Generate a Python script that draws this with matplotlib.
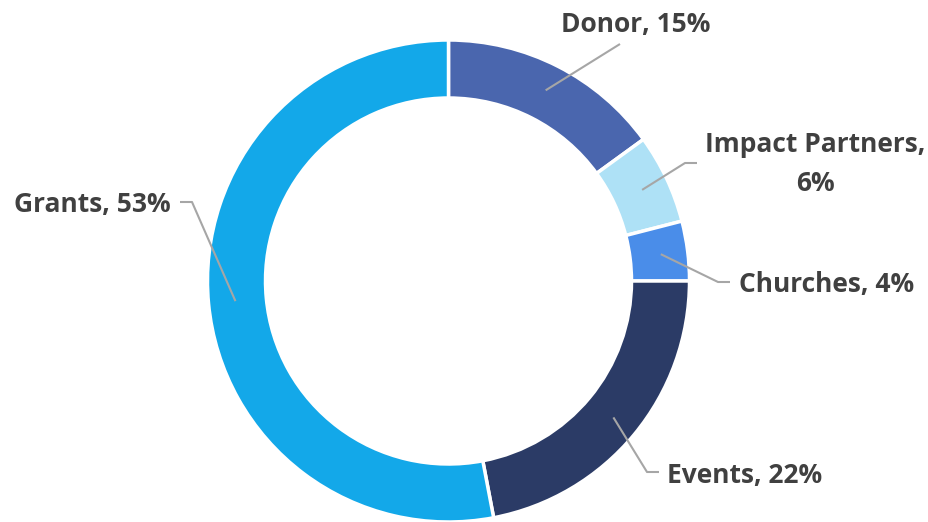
import numpy as np
import matplotlib
matplotlib.use("Agg")
import matplotlib.pyplot as plt

categories = ["Donor", "Impact Partners", "Churches", "Events", "Grants"]
values = [15, 6, 4, 22, 53]
colors = ["#4A66AE", "#AEE1F6", "#4A8DE9", "#2B3B66", "#13A8E9"]
label_texts = ["Donor, 15%", "Impact Partners,\n6%", "Churches, 4%", "Events, 22%", "Grants, 53%"]

W, H = 929, 522
fig = plt.figure(figsize=(W / 100, H / 100), dpi=100)
ax = fig.add_axes([0, 0, 1, 1])

cx, cy, R = 448.5, H - 281, 241
ax.pie(values, startangle=90, counterclock=False, radius=R, center=(cx, cy),
       colors=colors, wedgeprops=dict(width=58, edgecolor="white", linewidth=2.5),
       frame=True)
ax.set_xlim(0, W)
ax.set_ylim(0, H)
ax.set_aspect("equal")
ax.axis("off")

# label layout (pixel coords from top): text position, alignment, leader points
layout = {
    "Donor": dict(text=(636, 24), ha="center", pts=[(620, 44)]),
    "Impact Partners": dict(text=(815, 164), ha="center", pts=[(685, 163), (697, 163)]),
    "Churches": dict(text=(739, 284), ha="left", pts=[(718, 282), (730, 282)]),
    "Events": dict(text=(667, 476), ha="left", pts=[(647, 472), (659, 472)]),
    "Grants": dict(text=(171, 204), ha="right", pts=[(192, 202), (180, 202)]),
}

cum = np.cumsum([0] + values[:-1])
total = sum(values)
ra = 214
for cat, v, c0, txt in zip(categories, values, cum, label_texts):
    mid = (c0 + v / 2) / total * 2 * np.pi
    ax_x = cx + ra * np.sin(mid)
    ax_y = cy + ra * np.cos(mid)
    L = layout[cat]
    pts = [(ax_x, ax_y)] + [(px, H - py) for px, py in L["pts"]]
    xs, ys = zip(*pts)
    ax.plot(xs, ys, color="#A6A6A6", lw=1.5, solid_capstyle="butt")
    tx, ty = L["text"]
    ax.text(tx, H - ty, txt, ha=L["ha"], va="center", fontsize=19, fontweight="bold",
            family="Open Sans", color="#404040", linespacing=1.6, multialignment="center")

fig.savefig("out.png", dpi=100)
